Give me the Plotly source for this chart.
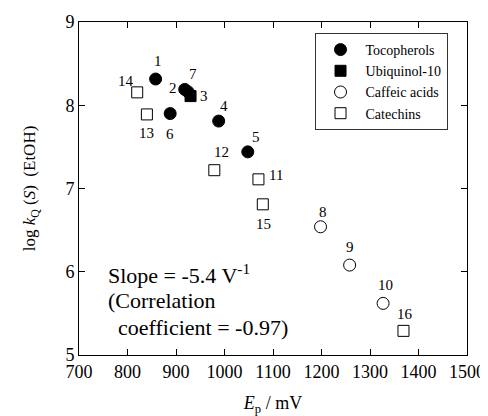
import plotly.graph_objects as go

# Data: E_p (mV) and log kQ(S) in EtOH, with compound numbers
toco_x = [858, 918, 888, 988, 1048, 925]
toco_y = [8.315, 8.19, 7.90, 7.81, 7.44, 8.16]
toco_lbl = ["1", "2", "6", "4", "5", "7"]

ubi_x = [930]
ubi_y = [8.11]
ubi_lbl = ["3"]

caff_x = [1198, 1258, 1327]
caff_y = [6.54, 6.08, 5.62]
caff_lbl = ["8", "9", "10"]

cat_x = [820, 840, 979, 1070, 1079, 1369]
cat_y = [8.155, 7.89, 7.22, 7.11, 6.81, 5.29]
cat_lbl = ["14", "13", "12", "11", "15", "16"]

x_ticks = [700, 800, 900, 1000, 1100, 1200, 1300, 1400, 1500]
y_ticks = [5, 6, 7, 8, 9]

# label pixel offsets (styling)
offsets = {
    "1": (2, 18), "2": (-12, 1), "6": (0, -20), "4": (5, 15), "5": (8, 15), "7": (5, 18),
    "3": (13, 0), "8": (2, 15), "9": (0, 18), "10": (2, 18),
    "14": (-11, 11), "13": (0, -19), "12": (7, 18), "11": (18, 4), "15": (1, -20), "16": (2, 17),
}

FONT = "Liberation Serif, Times New Roman, Times, serif"
fig = go.Figure()
fig.add_trace(go.Scatter(x=toco_x, y=toco_y, mode="markers", name="Tocopherols",
                         marker=dict(symbol="circle", size=12, color="black", line=dict(color="black", width=1))))
fig.add_trace(go.Scatter(x=ubi_x, y=ubi_y, mode="markers", name="Ubiquinol-10",
                         marker=dict(symbol="square", size=11, color="black", line=dict(color="black", width=1))))
fig.add_trace(go.Scatter(x=caff_x, y=caff_y, mode="markers", name="Caffeic acids",
                         marker=dict(symbol="circle-open", size=12, color="black", line=dict(color="black", width=1))))
fig.add_trace(go.Scatter(x=cat_x, y=cat_y, mode="markers", name="Catechins",
                         marker=dict(symbol="square-open", size=11, color="black", line=dict(color="black", width=1))))

for xs, ys, ls in [(toco_x, toco_y, toco_lbl), (ubi_x, ubi_y, ubi_lbl),
                   (caff_x, caff_y, caff_lbl), (cat_x, cat_y, cat_lbl)]:
    for x, y, l in zip(xs, ys, ls):
        dx, dy = offsets[l]
        fig.add_annotation(x=x, y=y, text=l, showarrow=False, xshift=dx, yshift=dy,
                           font=dict(family=FONT, size=15, color="black"))

note_lines = ["Slope = -5.4 V<sup>-1</sup>", "(Correlation", "coefficient = -0.97)"]
note_x = [0.07, 0.07, 0.096]
note_y = [0.243, 0.165, 0.084]
for t, nx, ny in zip(note_lines, note_x, note_y):
    fig.add_annotation(xref="paper", yref="paper", x=nx, y=ny, xanchor="left", yanchor="middle",
                       text=t, showarrow=False,
                       font=dict(family=FONT, size=22, color="black"))

axis_common = dict(showgrid=False, zeroline=False, showline=True, linecolor="black", linewidth=1,
                   mirror="ticks", ticks="inside", ticklen=6, tickcolor="black", automargin=False,
                   tickfont=dict(family=FONT, size=18, color="black"))
fig.update_xaxes(range=[700, 1500], tickvals=x_ticks, ticktext=[str(v) for v in x_ticks],
                 title=dict(text="<i>E</i><sub>p</sub> / mV", font=dict(family=FONT, size=18, color="black"),
                            standoff=18),
                 **axis_common)
fig.update_yaxes(range=[5, 9], tickvals=y_ticks, ticktext=[str(v) for v in y_ticks],
                 title=dict(text="log <i>k</i><sub>Q</sub> (<i>S</i>)  (EtOH)",
                            font=dict(family=FONT, size=17, color="black"), standoff=25),
                 **axis_common)

# page body has an 8px margin, so the figure is drawn 8px smaller and offset
fig.update_layout(width=480, height=408, margin=dict(l=71, r=21, t=14, b=61),
                  paper_bgcolor="white", plot_bgcolor="white",
                  legend=dict(x=0.607, y=0.967, xanchor="left", yanchor="top",
                              bordercolor="#333", borderwidth=1, bgcolor="white",
                              font=dict(family=FONT, size=14, color="black"),
                              itemsizing="trace", tracegroupgap=0, itemwidth=40))
fig.write_html("out.html")
